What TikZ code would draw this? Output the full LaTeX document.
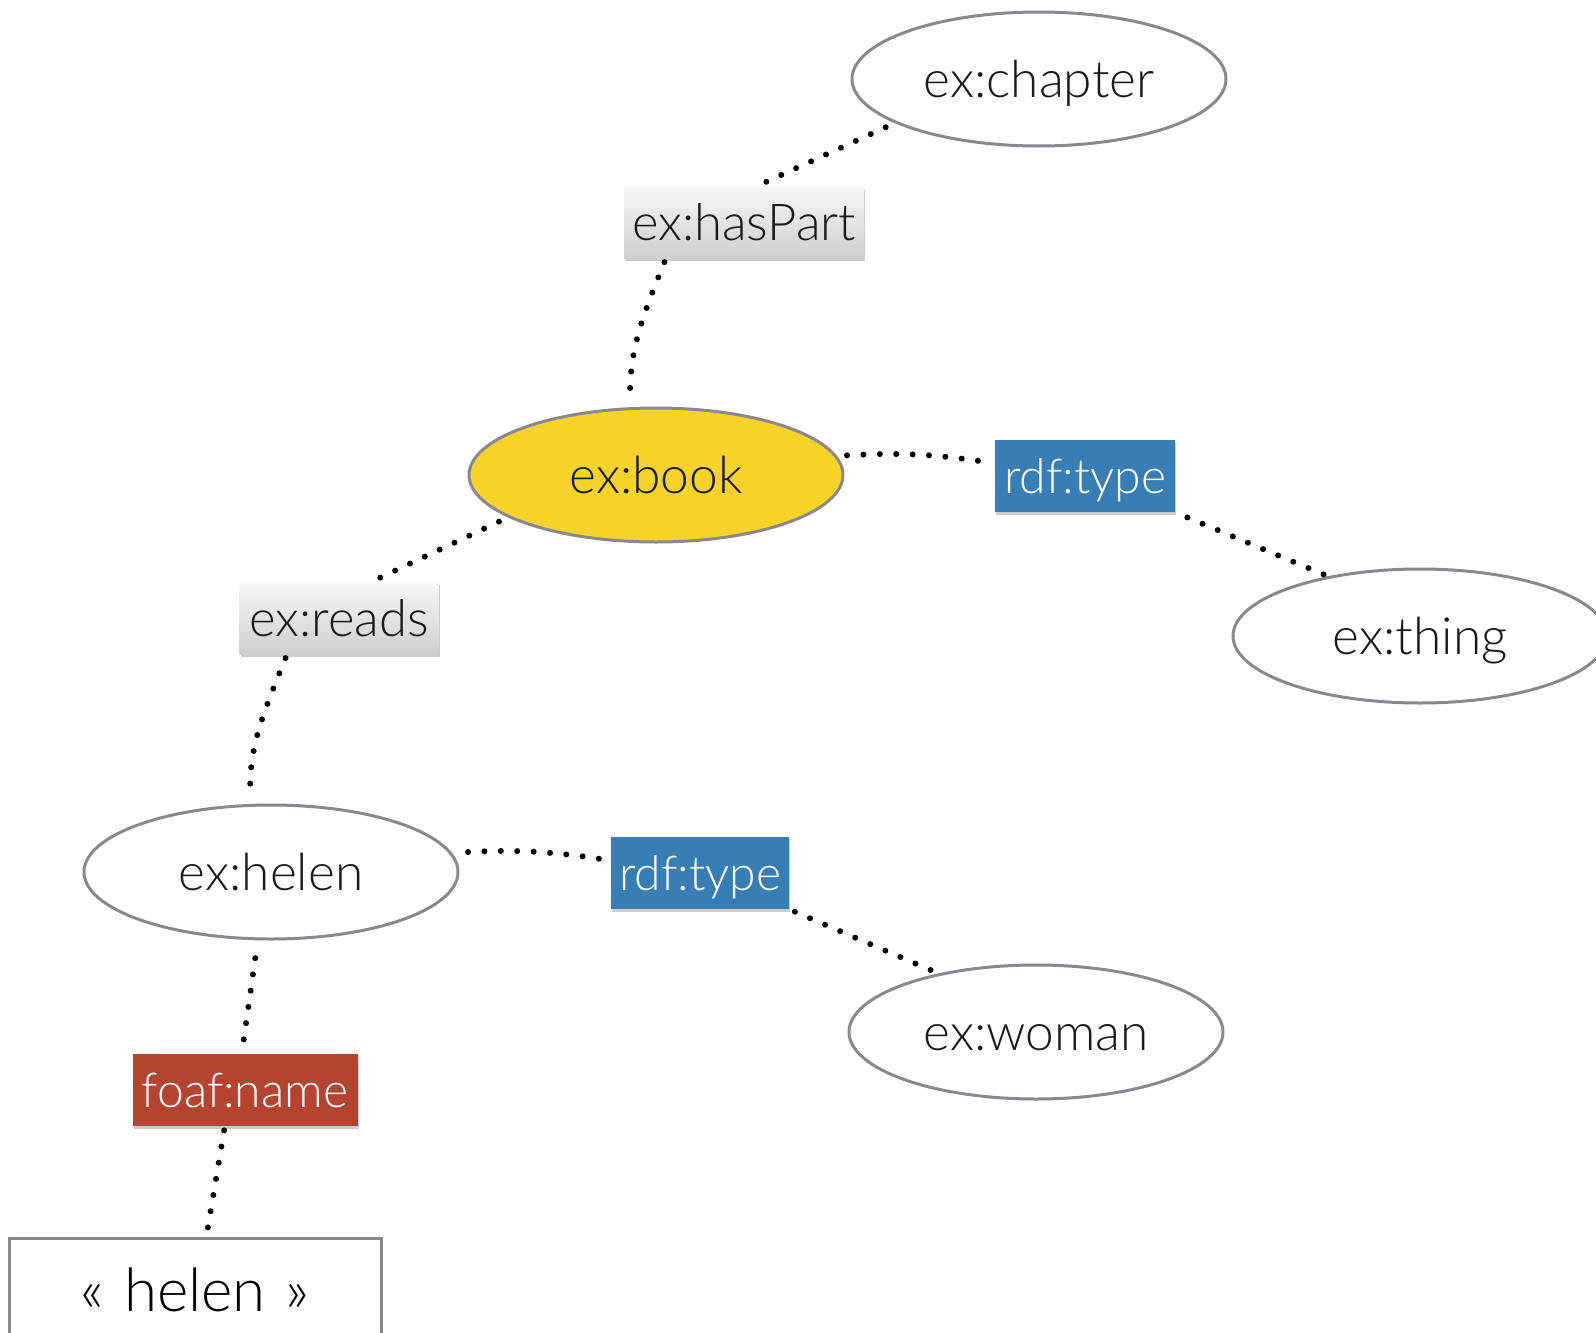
\documentclass[tikz,border=0pt]{standalone}
\usepackage{fontspec}
\setmainfont{Lato}[UprightFont=*-Light,Extension=.ttf]
\usetikzlibrary{shapes.geometric,shadows}

\definecolor{edgegray}{HTML}{88888E}
\definecolor{bookyellow}{HTML}{F5D328}
\definecolor{rdfblue}{HTML}{377DB6}
\definecolor{foafred}{HTML}{B4432F}
\definecolor{textdark}{HTML}{1A1A1A}

\begin{document}
\begin{tikzpicture}[x=0.5pt,y=0.5pt,
    resource/.style={ellipse,draw=edgegray,line width=1.5pt,fill=white,
        minimum width=187pt,minimum height=67pt,inner sep=0pt,
        text height=18.5pt,text depth=0pt,
        text=textdark,font=\fontsize{25.7}{30}\selectfont},
    property/.style={rectangle,minimum height=36pt,inner sep=0pt,
        text height=17pt,text depth=0pt,
        text=white,font=\fontsize{24}{28}\selectfont,
        drop shadow={shadow xshift=0.6pt,shadow yshift=-1.5pt,opacity=0.4}},
    greybox/.style={property,top color=gray!6,bottom color=gray!38,
        text=textdark,text height=18pt,font=\fontsize{25.4}{30}\selectfont},
    literal/.style={rectangle,draw=edgegray,line width=1.5pt,fill=white,
        minimum width=186pt,minimum height=52pt,inner sep=0pt,
        text=black,font=\fontsize{30}{34}\selectfont},
    link/.style={line width=3pt,line cap=round,dash pattern=on 0pt off 8.2pt}]
    \useasboundingbox (0,0) rectangle (1596,-1333);

    \coordinate (Chapter) at (1039,-79);
    \coordinate (HasPart) at (744,-222);
    \coordinate (Book) at (656,-475);
    \coordinate (TypeA) at (1085,-476);
    \coordinate (Thing) at (1420,-636);
    \coordinate (Reads) at (339,-618);
    \coordinate (Helen) at (271,-872);
    \coordinate (TypeB) at (700,-873);
    \coordinate (Woman) at (1036,-1032);
    \coordinate (Name) at (245,-1090);
    \coordinate (Lit) at (195,-1290);

    % resources
    \node[resource] (chapter) at (Chapter) {ex:chapter};
    \node[resource,fill=bookyellow] (book) at (Book) {ex:book};
    \node[resource] (thing) at (Thing) {ex:thing};
    \node[resource] (helen) at (Helen) {ex:helen};
    \node[resource] (woman) at (Woman) {ex:woman};
    \node[literal] (lit) at (Lit)
        {\guillemotleft\hspace{0.33em}helen\hspace{0.33em}\guillemotright};

    % properties
    \node[greybox,minimum width=120pt] (hasPart) at (HasPart) {ex:hasPart};
    \node[greybox,minimum width=99.5pt] (reads) at (Reads) {ex:reads};
    \node[property,fill=rdfblue,minimum width=90pt] (typeA) at (TypeA) {rdf:type};
    \node[property,fill=rdfblue,minimum width=89pt] (typeB) at (TypeB) {rdf:type};
    \node[property,fill=foafred,minimum width=112.5pt] (name) at (Name) {foaf:name};

    % dotted links
    \draw[link,shorten <=5pt,shorten >=2pt] (chapter.197) -- (hasPart.69);
    \draw[link,shorten <=2pt,shorten >=6pt] (hasPart.205)
        to[out=-112,in=90] (book.111);
    \draw[link,shorten <=5pt,shorten >=4pt] (book.6)
        to[bend left=6] (typeA.172);
    \draw[link,shorten <=6.5pt,shorten >=1pt] (typeA.south east) -- (thing.147);
    \draw[link,shorten <=5pt,shorten >=2pt] (book.196) -- (reads.48);
    \draw[link,shorten <=2pt,shorten >=8.5pt] (reads.215)
        to[out=-112,in=90] (helen.107);
    \draw[link,shorten <=8pt,shorten >=1.5pt] (helen.6)
        to[bend left=6] (typeB.172);
    \draw[link,shorten <=3pt,shorten >=1pt] (typeB.south east) -- (woman.149);
    \draw[link,shorten <=9pt,shorten >=4pt] (helen.259) -- (name.95);
    \draw[link,shorten <=2pt,shorten >=2pt] (name.241) -- (lit.78);
\end{tikzpicture}
\end{document}
